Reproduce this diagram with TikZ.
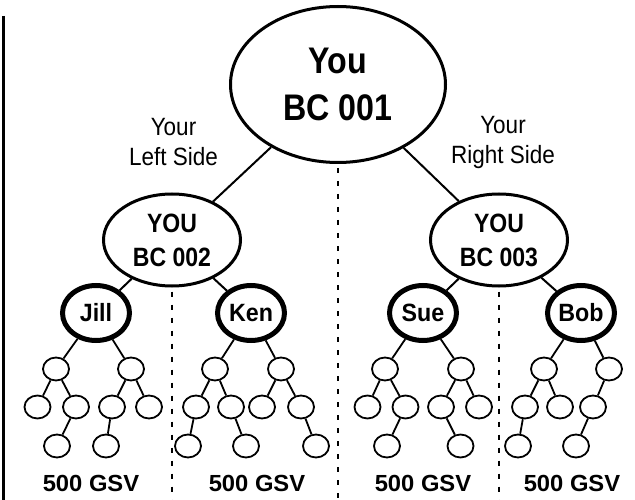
\documentclass[tikz,border=0pt]{standalone}
\usepackage{fontspec}
\setmainfont{Liberation Sans}
\newfontfamily\youface[FakeStretch=0.87]{Liberation Sans}
\newfontfamily\sideface[FakeStretch=0.9]{Liberation Sans}
\newfontfamily\leafface[FakeStretch=0.93]{Liberation Sans}
\newfontfamily\gsvface[FakeStretch=1.02]{Liberation Sans}
\usepackage{tikz}
\usetikzlibrary{shapes.geometric}
\tikzstyle{topbox} = [ellipse,draw,line width=3pt,minimum width=215pt,minimum height=156pt,inner sep=0pt,align=center,font=\youface\bfseries\fontsize{37}{47}\selectfont]
\tikzstyle{midbox} = [ellipse,draw,line width=3pt,minimum width=137pt,minimum height=92pt,inner sep=0pt,align=center,font=\youface\bfseries\fontsize{26.5}{34}\selectfont]
\tikzstyle{leafbox} = [ellipse,draw,line width=5pt,minimum width=67pt,minimum height=55pt,inner sep=0pt,font=\leafface\bfseries\fontsize{25}{30}\selectfont]
\tikzstyle{bubble} = [ellipse,draw,line width=1.8pt,minimum width=26pt,minimum height=23pt,inner sep=0pt]
\tikzstyle{sidetext} = [align=center,inner sep=0pt,font=\sideface\fontsize{25}{30}\selectfont]
\tikzstyle{gsv} = [inner sep=0pt,font=\gsvface\bfseries\fontsize{23.3}{28}\selectfont]
\tikzstyle{link} = [line width=2pt]
\tikzstyle{twig} = [line width=1.8pt]
\tikzstyle{divider} = [line width=2.7pt,dash pattern=on 5pt off 8pt]

\begin{document}
\begin{tikzpicture}[x=1pt,y=-1pt]
\useasboundingbox (0,0) rectangle (635,500);
% left rule
\draw[line width=3pt] (3,16) -- (3,500);

% you and the two sides
\node[topbox] (you) at (338,84.5) {You\\BC 001};
\node[midbox] (left) at (172,240) {YOU\\BC 002};
\node[midbox] (right) at (499,240) {YOU\\BC 003};
\draw[link] (you) -- (left);
\draw[link] (you) -- (right);
\node[sidetext] (lside) at (173.5,142.5) {Your\\Left Side};
\node[sidetext] (rside) at (503,142.5) {Your\\Right Side};

% dividers
\coordinate (bottom) at (0,500);
\draw[divider] (you.south) ++(0,4) -- (you.south |- bottom);
\draw[divider] (left.south) ++(0,4) -- (left.south |- bottom);
\draw[divider] (right.south) ++(0,4) -- (right.south |- bottom);

% first legs
\node[leafbox] (jill) at (96,313) {Jill};
\node[leafbox] (ken) at (251,313) {Ken};
\node[leafbox] (sue) at (423,313) {Sue};
\node[leafbox] (bob) at (581,313) {Bob};
\foreach \a/\b in {left/jill,left/ken,right/sue,right/bob}
  \draw[link] (\a) -- (\b);

% downlines
\foreach \n/\x in {ja/56,jb/131,ka/215,kb/281,sa/385,sb/461,ba/544,bb/609}
  \node[bubble] (\n) at (\x,369) {};
\foreach \n/\x in {jc/37.5,jd/76,je/112,jf/149,kc/196,kd/231,ke/262,kf/301,sc/367.5,sd/405.5,se/441,sf/479,bc/525,bd/560,be/593}
  \node[bubble] (\n) at (\x,407) {};
\foreach \n/\x in {jg/57,jh/106,kg/188,kh/246,ki/316,sg/387,sh/460.5,bf/518,bg/576}
  \node[bubble] (\n) at (\x,446) {};
\foreach \a/\b in {jill/ja,jill/jb,ja/jc,ja/jd,jb/je,jb/jf,jd/jg,je/jh,
                   ken/ka,ken/kb,ka/kc,ka/kd,kb/ke,kb/kf,kc/kg,kd/kh,kf/ki,
                   sue/sa,sue/sb,sa/sc,sa/sd,sb/se,sb/sf,sd/sg,se/sh,
                   bob/ba,bob/bb,ba/bc,ba/bd,bb/be,bc/bf,be/bg}
  \draw[twig] (\a) -- (\b);

% volume under each leg
\node[gsv] (gsv1) at (91,483.5) {500 GSV};
\node[gsv] (gsv2) at (257,483.5) {500 GSV};
\node[gsv] (gsv3) at (423,483.5) {500 GSV};
\node[gsv] (gsv4) at (572,483.5) {500 GSV};
\end{tikzpicture}
\end{document}
